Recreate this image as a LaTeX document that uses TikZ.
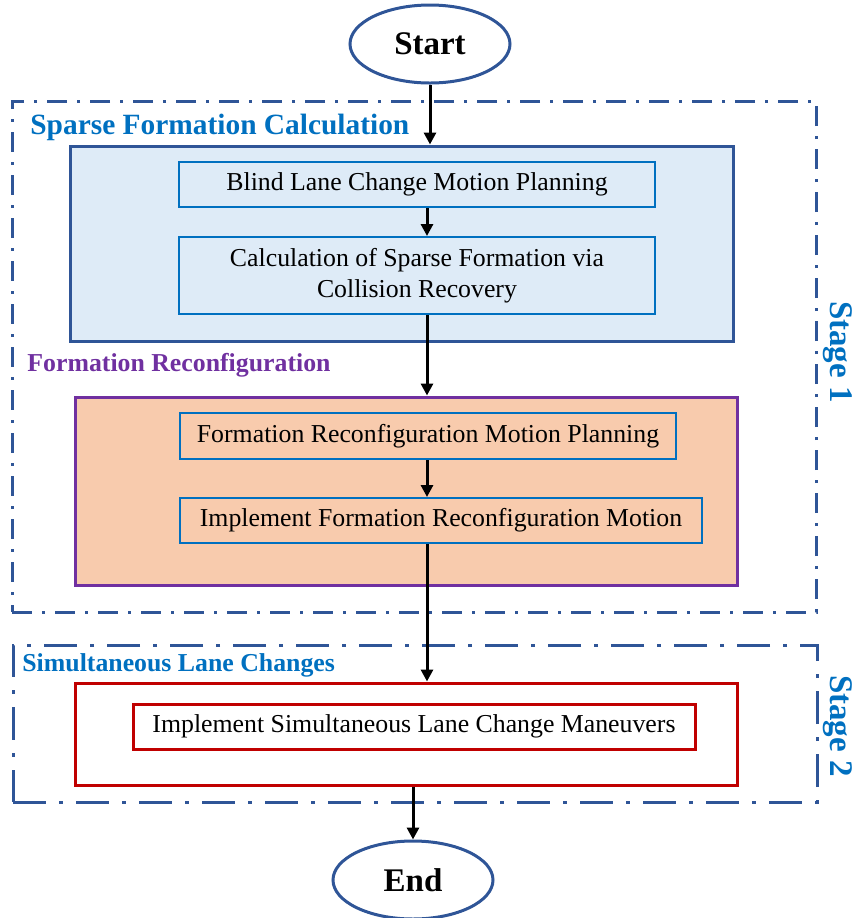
\documentclass[tikz,border=0pt]{standalone}
\usepackage{fontspec}
\setmainfont{Liberation Serif}
\usetikzlibrary{shapes.geometric,fit,arrows.meta}
\definecolor{frameblue}{HTML}{2F5597}
\definecolor{titleblue}{HTML}{0070C0}
\definecolor{paleblue}{HTML}{DEEBF7}
\definecolor{peach}{HTML}{F8CBAD}
\definecolor{groupviolet}{HTML}{7030A0}
\definecolor{deepred}{HTML}{C00000}
\begin{document}
\begin{tikzpicture}[x=0.5pt,y=-0.5pt,
  stagebox/.style={draw=frameblue, line width=1.5pt, inner sep=0pt},
  stageonedash/.style={dash pattern=on 10pt off 5pt on 1.5pt off 5pt},
  stagetwodash/.style={dash pattern=on 16.5pt off 6.5pt on 2pt off 6.5pt},
  groupbox/.style={line width=1.5pt, inner sep=0pt},
  stepbox/.style={draw=titleblue, line width=1pt, inner sep=0pt, align=center,
    minimum height=22.5pt, font=\fontsize{12.9}{15.5}\selectfont},
  terminal/.style={ellipse, draw=frameblue, line width=1.5pt, minimum width=80pt,
    minimum height=39pt, inner sep=0pt, font=\bfseries\fontsize{16.5}{18}\selectfont},
  arr/.style={-{Triangle[length=6pt,width=6pt]}, line width=1.5pt, black},
  grouptitle/.style={anchor=west, inner sep=0pt, font=\bfseries\fontsize{12.9}{15}\selectfont},
  stagelabel/.style={rotate=-90, inner sep=0pt, text=titleblue,
    font=\bfseries\fontsize{16.5}{18}\selectfont}
]
\useasboundingbox (0,0) rectangle (855,918);

% stage frames
\node[stagebox, stageonedash, fit={(12,101) (816,612)}] (stageA) {};
\node[stagebox, stagetwodash, fit={(13,645) (817,802)}] (stageB) {};
\node[stagelabel] (stageAlabel) at (838,352) {Stage 1};
\node[stagelabel] (stageBlabel) at (838,726) {Stage 2};

% group boxes
\node[groupbox, draw=frameblue, fill=paleblue, fit={(70,146) (733,341)}] (sparse) {};
\node[groupbox, draw=groupviolet, fill=peach, fit={(75,397) (737,585)}] (reconf) {};
\node[groupbox, draw=deepred, fill=white, fit={(75,683) (737,785)}] (simul) {};

% group titles
\node[grouptitle, text=titleblue, font=\bfseries\fontsize{14.7}{17}\selectfont]
  (sparseTitle) at (30,127) {Sparse Formation Calculation};
\node[grouptitle, text=groupviolet] (reconfTitle) at (27,365) {Formation Reconfiguration};
\node[grouptitle, text=titleblue] (simulTitle) at (22,665) {Simultaneous Lane Changes};

% steps
\node[stepbox, fill=paleblue, minimum width=238pt] (blind) at (417,184.5)
  {Blind Lane Change Motion Planning};
\node[stepbox, fill=paleblue, minimum width=238pt, minimum height=38.5pt] (collide) at (417,275.5)
  {Calculation of Sparse Formation via\\Collision Recovery};
\node[stepbox, fill=peach, minimum width=248pt, minimum height=23pt] (plan) at (428,436)
  {Formation Reconfiguration Motion Planning};
\node[stepbox, fill=peach, minimum width=261pt] (implement) at (441,520.5)
  {Implement Formation Reconfiguration Motion};
\node[stepbox, draw=deepred, line width=1.5pt, fill=white, minimum width=281pt] (maneuver) at (414,726.5)
  {Implement Simultaneous Lane Change Maneuvers};

% terminals
\node[terminal] (start) at (430,44) {Start};
\node[terminal] (end) at (413,880) {End};

% flow
\coordinate (spine) at (427,0);
\draw[arr] (start.south) -- (start.south |- sparse.north);
\draw[arr] (blind.south -| spine) -- (collide.north -| spine);
\draw[arr] (collide.south -| spine) -- (reconf.north -| spine);
\draw[arr] (plan.south -| spine) -- (implement.north -| spine);
\draw[arr] (implement.south -| spine) -- (simul.north -| spine);
\draw[arr] (simul.south -| end.north) -- (end.north);
\end{tikzpicture}
\end{document}
